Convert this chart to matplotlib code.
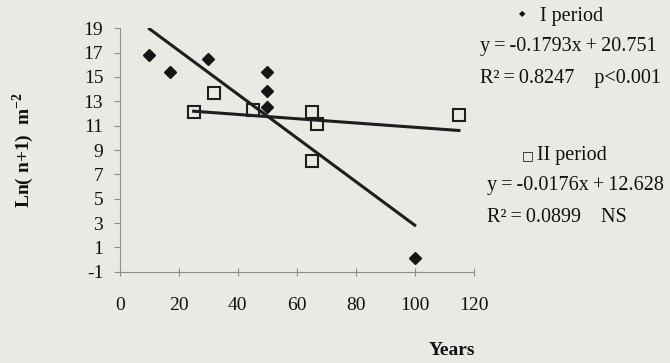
import matplotlib.pyplot as plt
import numpy as np

# Period I (filled diamonds) and period II (open squares)
years_1 = [10, 17, 30, 50, 50, 50, 100]
ln_1 = [16.8, 15.4, 16.5, 15.4, 13.85, 12.5, 0.15]
years_2 = [25, 32, 45, 65, 67, 65, 115]
ln_2 = [12.1, 13.7, 12.3, 12.1, 11.1, 8.1, 11.9]

# regression coefficients (slope, intercept)
fit_1 = (-0.1793, 20.751)
fit_2 = (-0.0176, 12.628)
r2_1 = 0.8247
r2_2 = 0.0899

xticks = [0, 20, 40, 60, 80, 100, 120]
yticks = [-1, 1, 3, 5, 7, 9, 11, 13, 15, 17, 19]

bg = '#eae9e4'
ink = '#111111'
serif = ['Liberation Serif', 'DejaVu Serif']
plt.rcParams['font.family'] = serif
plt.rcParams['mathtext.fontset'] = 'custom'
plt.rcParams['mathtext.rm'] = 'Liberation Serif'
plt.rcParams['mathtext.bf'] = 'Liberation Serif:bold'

fig = plt.figure(figsize=(6.7, 3.63), dpi=100, facecolor=bg)
ax = fig.add_axes([0.179, 0.2515, 0.528, 0.6705], facecolor=bg)

for xs, (a, b) in ((years_1, fit_1), (years_2, fit_2)):
    xx = np.array([min(xs), max(xs)])
    ax.plot(xx, a * xx + b, color='#1e1e1e', lw=2.2, zorder=2)

ax.plot(years_1, ln_1, 'D', color='#151515', ms=6.5, zorder=3)
ax.plot(years_2, ln_2, 's', mfc='none', mec='#1e1e1e', mew=1.5, ms=8, zorder=3)

ax.set_xlim(0, 120)
ax.set_ylim(-1, 19)
ax.set_xticks(xticks)
ax.set_xticklabels([str(v) for v in xticks])
ax.set_yticks(yticks)
ax.set_yticklabels([str(v) for v in yticks])

for s in ('top', 'right'):
    ax.spines[s].set_visible(False)
for s in ('left', 'bottom'):
    ax.spines[s].set_color('#8d8c87')
    ax.spines[s].set_linewidth(0.8)

ax.tick_params(axis='x', direction='inout', length=6, width=0.8, color='#8d8c87',
               labelsize=14, pad=15, labelcolor=ink)
ax.tick_params(axis='y', direction='out', length=4, width=0.8, color='#8d8c87',
               labelsize=14, pad=8, labelcolor=ink)

ax.set_ylabel(r'Ln( n+1)  m$^{\mathbf{-2}}$', fontsize=14, fontweight='bold',
              labelpad=34, color=ink)
fig.text(0.675, 0.035, 'Years', fontsize=14, fontweight='bold', ha='center',
         va='center', color=ink)

# regression annotations
sym = ['DejaVu Sans']
th = '\u2009'
fig.text(0.779, 0.962, '◆', family=sym, fontsize=6, ha='center', va='center', color=ink)
fig.text(0.806, 0.955, 'I period', fontsize=14.5, va='center', color=ink)
fig.text(0.716, 0.873, f'y{th}={th}{fit_1[0]}x{th}+{th}{fit_1[1]}', fontsize=14.5,
         va='center', color=ink)
fig.text(0.716, 0.785, f'R²{th}={th}{r2_1}    p<0.001', fontsize=14.5, va='center', color=ink)

fig.text(0.788, 0.571, '□', family=sym, fontsize=9, ha='center', va='center', color=ink)
fig.text(0.802, 0.573, 'II period', fontsize=14.5, va='center', color=ink)
fig.text(0.727, 0.49, f'y{th}={th}{fit_2[0]}x{th}+{th}{fit_2[1]}', fontsize=14.5,
         va='center', color=ink)
fig.text(0.727, 0.40, f'R²{th}={th}{r2_2}    NS', fontsize=14.5, va='center', color=ink)

fig.savefig('out.png', dpi=100, facecolor=bg)
